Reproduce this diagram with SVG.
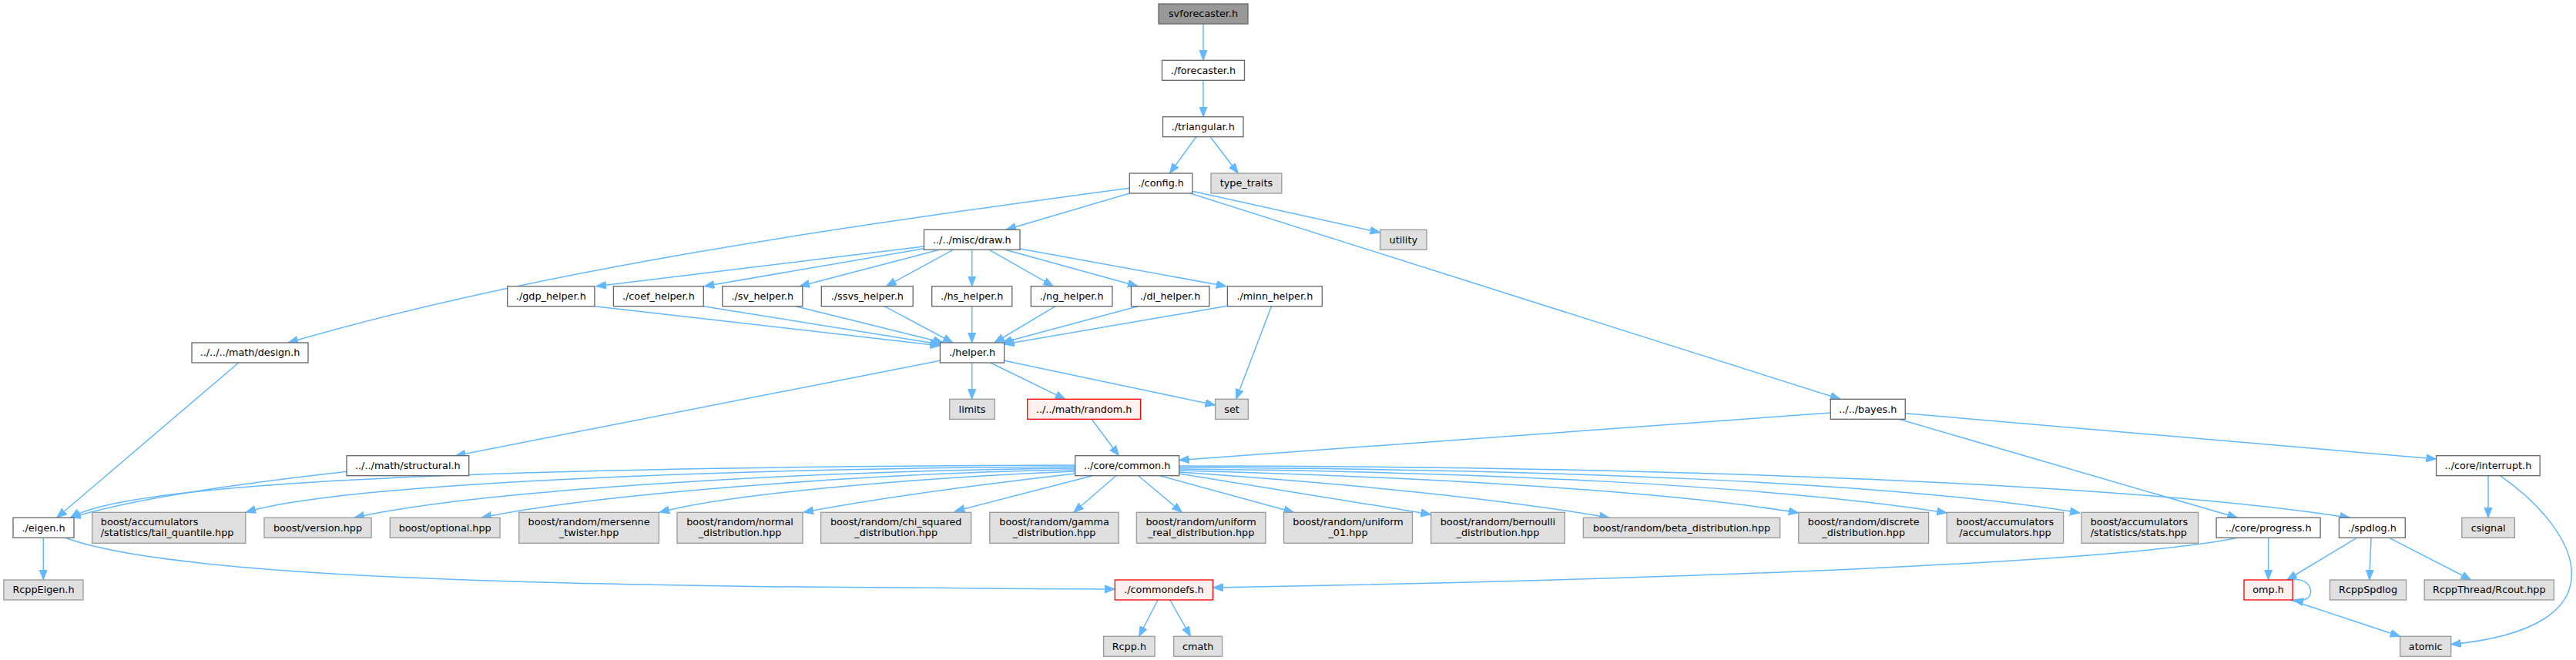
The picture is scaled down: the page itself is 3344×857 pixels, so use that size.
<svg xmlns="http://www.w3.org/2000/svg" width="3344" height="857" viewBox="0 0 3344 857">
<defs>
<marker id="a" markerUnits="userSpaceOnUse" markerWidth="14" markerHeight="11" refX="13" refY="5" orient="auto">
<path d="M0,0 L13,5 L0,10 z" fill="#63B8FF" stroke="#63B8FF" stroke-width="1"/>
</marker>
</defs>
<style>
rect{stroke-width:1.3}
.w rect{fill:#FFFFFF;stroke:#666666}
.g rect{fill:#E0E0E0;stroke:#999999}
.r rect{fill:#FFF0F0;stroke:#FF0000}
.root rect{fill:#999999;stroke:#666666}
text{font-family:"DejaVu Sans",sans-serif;font-size:12.8px;fill:#000000;text-anchor:middle}
.l text{text-anchor:start}
#edges path{fill:none;stroke:#63B8FF;stroke-width:1.5;marker-end:url(#a)}
</style>
<rect x="0" y="0" width="3344" height="857" fill="#FFFFFF" stroke="none"/>
<g id="edges">
<path d="M1562,31 L1562,78.3"/>
<path d="M1562,104.3 L1562,151.7"/>
<path d="M1552.8,177.7 L1518.4,225"/>
<path d="M1571.2,177.7 L1607.2,225"/>
<path d="M1466.3,251 L1306,298.3"/>
<path d="M1547.9,248.3 L1791.6,302"/>
<path d="M1545,251 L2389,518.3"/>
<path d="M1466.3,244.3 C1100,293 700,350 374,445"/>
<path d="M1199.5,320 L774,371.7"/>
<path d="M1199.5,322.7 L914.3,371.7"/>
<path d="M1219.4,324.3 L1038,371.7"/>
<path d="M1237.2,324.3 L1150.5,371.7"/>
<path d="M1261.7,324.3 L1261.7,371.7"/>
<path d="M1284.2,324.3 L1367.3,371.7"/>
<path d="M1305,324.3 L1477,371.7"/>
<path d="M1324,323 L1591.8,371.7"/>
<path d="M772,397.7 L1220.4,449"/>
<path d="M913.3,397.7 L1220.4,447"/>
<path d="M1033,397.7 L1224.5,445"/>
<path d="M1148,397.7 L1237,445"/>
<path d="M1261.7,397.7 L1261.7,445"/>
<path d="M1370,397.7 L1290.8,445"/>
<path d="M1477,397.7 L1301,445"/>
<path d="M1593.4,397.3 L1303.6,447"/>
<path d="M1650.5,397.7 L1604.6,518.3"/>
<path d="M1261.7,471 L1261.7,518.3"/>
<path d="M1285.7,471 L1382.7,518.3"/>
<path d="M1303.6,468.3 L1577.6,526"/>
<path d="M1220.4,468.3 L591.3,591.7"/>
<path d="M309.7,471 L73.7,672.3"/>
<path d="M450.4,612.3 C330,626 180,645 91.5,672.3"/>
<path d="M1395.7,604 C800,606 180,618 91.5,672.3"/>
<path d="M1417,544.3 L1452.4,591.7"/>
<path d="M2376.3,536 L1530.7,597.5"/>
<path d="M2465,544.3 L2904.5,672.3"/>
<path d="M2473.3,536.7 L3162.6,596"/>
<path d="M1395.7,606 C1000,608 450,625 319,665.3"/>
<path d="M1395.7,608 C1000,612 600,640 460,672.3"/>
<path d="M1395.7,610 C1100,615 750,645 625,672.3"/>
<path d="M1395.7,612 C1200,620 950,640 856,665.3"/>
<path d="M1395.7,615 C1300,626 1150,645 1042.9,665.3"/>
<path d="M1418,617.7 L1239.3,664"/>
<path d="M1448.7,617.7 L1393.8,665.3"/>
<path d="M1477.7,617.7 L1534.4,665.3"/>
<path d="M1505.4,617.7 L1679.5,665.3"/>
<path d="M1530.7,615 L1857.6,668"/>
<path d="M1530.7,613 C1750,628 1950,648 2089.3,672.3"/>
<path d="M1530.7,611 C1800,618 2150,635 2334.8,666"/>
<path d="M1530.7,609 C1900,612 2300,630 2527.2,666"/>
<path d="M1530.7,607 C2000,609 2450,625 2700,666"/>
<path d="M1530.7,605 C2100,605 2750,625 3050.6,672.3"/>
<path d="M56.3,698.3 L56.3,753"/>
<path d="M84.8,698.3 C250,760 900,762 1447.3,765"/>
<path d="M2905,698.3 C2750,730 2200,752 1574.6,763"/>
<path d="M2944.6,698.3 L2944.6,753"/>
<path d="M3059.5,698.3 L2968.7,753"/>
<path d="M3078,698.3 L3075.8,753"/>
<path d="M3101.5,698.3 L3207.8,753"/>
<path d="M3230,617.7 L3230,672.3"/>
<path d="M3245.4,617.7 C3350,690 3410,815 3181.7,836.7"/>
<path d="M2975,753 C3005,748 3010,786 2977,779"/>
<path d="M2973,779 L3115.7,826.3"/>
<path d="M1503,779 L1478.6,826.3"/>
<path d="M1518.8,779 L1545.5,826.3"/>
</g>
<g id="n_svforecaster" class="root"><rect x="1504" y="5" width="116" height="26"/><text x="1562" y="22.3">svforecaster.h</text></g>
<g id="n_forecaster" class="w"><rect x="1508.5" y="78.3" width="107" height="26"/><text x="1562" y="95.6">./forecaster.h</text></g>
<g id="n_triangular" class="w"><rect x="1509.5" y="151.7" width="104.5" height="26"/><text x="1561.75" y="169">./triangular.h</text></g>
<g id="n_config" class="w"><rect x="1466.3" y="225" width="81.6" height="26"/><text x="1507.1" y="242.3">./config.h</text></g>
<g id="n_type_traits" class="g"><rect x="1572" y="225" width="91.8" height="26"/><text x="1617.9" y="242.3">type_traits</text></g>
<g id="n_draw" class="w"><rect x="1199.5" y="298.3" width="124.5" height="26"/><text x="1261.75" y="315.6">../../misc/draw.h</text></g>
<g id="n_utility" class="g"><rect x="1791.6" y="298.3" width="60.4" height="26"/><text x="1821.8" y="315.6">utility</text></g>
<g id="n_gdp" class="w"><rect x="658.7" y="371.7" width="113.2" height="26"/><text x="715.3" y="389">./gdp_helper.h</text></g>
<g id="n_coef" class="w"><rect x="796.4" y="371.7" width="116.9" height="26"/><text x="854.85" y="389">./coef_helper.h</text></g>
<g id="n_sv" class="w"><rect x="937.8" y="371.7" width="104" height="26"/><text x="989.8" y="389">./sv_helper.h</text></g>
<g id="n_ssvs" class="w"><rect x="1066.3" y="371.7" width="118.9" height="26"/><text x="1125.75" y="389">./ssvs_helper.h</text></g>
<g id="n_hs" class="w"><rect x="1209.7" y="371.7" width="104.1" height="26"/><text x="1261.75" y="389">./hs_helper.h</text></g>
<g id="n_ng" class="w"><rect x="1338.3" y="371.7" width="105.6" height="26"/><text x="1391.1" y="389">./ng_helper.h</text></g>
<g id="n_dl" class="w"><rect x="1468.4" y="371.7" width="101.5" height="26"/><text x="1519.15" y="389">./dl_helper.h</text></g>
<g id="n_minn" class="w"><rect x="1593.4" y="371.7" width="122.9" height="26"/><text x="1654.85" y="389">./minn_helper.h</text></g>
<g id="n_helper" class="w"><rect x="1220.4" y="445" width="83.2" height="26"/><text x="1262" y="462.3">./helper.h</text></g>
<g id="n_design" class="w"><rect x="249" y="445" width="151" height="26"/><text x="324.5" y="462.3">../../../math/design.h</text></g>
<g id="n_limits" class="g"><rect x="1232.7" y="518.3" width="58.6" height="26"/><text x="1262" y="535.6">limits</text></g>
<g id="n_random" class="r"><rect x="1333.7" y="518.3" width="146.9" height="26"/><text x="1407.15" y="535.6">../../math/random.h</text></g>
<g id="n_set" class="g"><rect x="1577.6" y="518.3" width="42.8" height="26"/><text x="1599" y="535.6">set</text></g>
<g id="n_bayes" class="w"><rect x="2376.3" y="518.3" width="97" height="26"/><text x="2424.8" y="535.6">../../bayes.h</text></g>
<g id="n_structural" class="w"><rect x="450" y="591.7" width="158.7" height="26"/><text x="529.35" y="609">../../math/structural.h</text></g>
<g id="n_common" class="w"><rect x="1395.7" y="591.7" width="135" height="26"/><text x="1463.2" y="609">../core/common.h</text></g>
<g id="n_interrupt" class="w"><rect x="3162.6" y="591.7" width="134.6" height="26"/><text x="3229.9" y="609">../core/interrupt.h</text></g>
<g id="n_eigen" class="w"><rect x="17" y="672.3" width="79" height="26"/><text x="56.5" y="689.6">./eigen.h</text></g>
<g id="n_tail" class="g l"><rect x="119.6" y="665.3" width="199.2" height="40"/><text x="130.8" y="681.8">boost/accumulators</text><text x="130.8" y="695.8">/statistics/tail_quantile.hpp</text></g>
<g id="n_version" class="g"><rect x="342.9" y="672.3" width="139.2" height="26"/><text x="412.5" y="689.6">boost/version.hpp</text></g>
<g id="n_optional" class="g"><rect x="506.3" y="672.3" width="142.8" height="26"/><text x="577.7" y="689.6">boost/optional.hpp</text></g>
<g id="n_mersenne" class="g"><rect x="673.7" y="665.3" width="181.7" height="40"/><text x="764.55" y="681.8">boost/random/mersenne</text><text x="764.55" y="695.8">_twister.hpp</text></g>
<g id="n_normal" class="g"><rect x="879" y="665.3" width="163" height="40"/><text x="960.5" y="681.8">boost/random/normal</text><text x="960.5" y="695.8">_distribution.hpp</text></g>
<g id="n_chi" class="g"><rect x="1065.6" y="665.3" width="195.1" height="40"/><text x="1163.15" y="681.8">boost/random/chi_squared</text><text x="1163.15" y="695.8">_distribution.hpp</text></g>
<g id="n_gamma" class="g"><rect x="1284.8" y="665.3" width="167.4" height="40"/><text x="1368.5" y="681.8">boost/random/gamma</text><text x="1368.5" y="695.8">_distribution.hpp</text></g>
<g id="n_ureal" class="g"><rect x="1475.4" y="665.3" width="167.5" height="40"/><text x="1559.15" y="681.8">boost/random/uniform</text><text x="1559.15" y="695.8">_real_distribution.hpp</text></g>
<g id="n_u01" class="g"><rect x="1666.5" y="665.3" width="167" height="40"/><text x="1750" y="681.8">boost/random/uniform</text><text x="1750" y="695.8">_01.hpp</text></g>
<g id="n_bernoulli" class="g"><rect x="1857.6" y="665.3" width="173.7" height="40"/><text x="1944.45" y="681.8">boost/random/bernoulli</text><text x="1944.45" y="695.8">_distribution.hpp</text></g>
<g id="n_beta" class="g"><rect x="2055.4" y="672.3" width="255.3" height="26"/><text x="2183.05" y="689.6">boost/random/beta_distribution.hpp</text></g>
<g id="n_discrete" class="g"><rect x="2334.8" y="665.3" width="168.8" height="40"/><text x="2419.2" y="681.8">boost/random/discrete</text><text x="2419.2" y="695.8">_distribution.hpp</text></g>
<g id="n_accum" class="g"><rect x="2527.2" y="665.3" width="151.4" height="40"/><text x="2602.9" y="681.8">boost/accumulators</text><text x="2602.9" y="695.8">/accumulators.hpp</text></g>
<g id="n_stats" class="g l"><rect x="2702.2" y="665.3" width="151.4" height="40"/><text x="2713.7" y="681.8">boost/accumulators</text><text x="2713.7" y="695.8">/statistics/stats.hpp</text></g>
<g id="n_progress" class="w"><rect x="2877.1" y="672.3" width="135" height="26"/><text x="2944.6" y="689.6">../core/progress.h</text></g>
<g id="n_spdlog" class="w"><rect x="3036.4" y="672.3" width="85.9" height="26"/><text x="3079.35" y="689.6">./spdlog.h</text></g>
<g id="n_csignal" class="g"><rect x="3195.8" y="672.3" width="68.6" height="26"/><text x="3230.1" y="689.6">csignal</text></g>
<g id="n_rcppeigen" class="g"><rect x="4.9" y="753" width="103.1" height="26"/><text x="56.45" y="770.3">RcppEigen.h</text></g>
<g id="n_commondefs" class="r"><rect x="1447.3" y="753" width="127.3" height="26"/><text x="1510.95" y="770.3">./commondefs.h</text></g>
<g id="n_omp" class="r"><rect x="2913" y="753" width="63.2" height="26"/><text x="2944.6" y="770.3">omp.h</text></g>
<g id="n_rcppspdlog" class="g"><rect x="3024.5" y="753" width="99.1" height="26"/><text x="3074.05" y="770.3">RcppSpdlog</text></g>
<g id="n_rcout" class="g"><rect x="3147.2" y="753" width="168.2" height="26"/><text x="3231.3" y="770.3">RcppThread/Rcout.hpp</text></g>
<g id="n_rcpp" class="g"><rect x="1432.6" y="826.3" width="66.5" height="26"/><text x="1465.85" y="843.6">Rcpp.h</text></g>
<g id="n_cmath" class="g"><rect x="1523.7" y="826.3" width="62.9" height="26"/><text x="1555.15" y="843.6">cmath</text></g>
<g id="n_atomic" class="g"><rect x="3115.7" y="826.3" width="66" height="26"/><text x="3148.7" y="843.6">atomic</text></g>
</svg>
